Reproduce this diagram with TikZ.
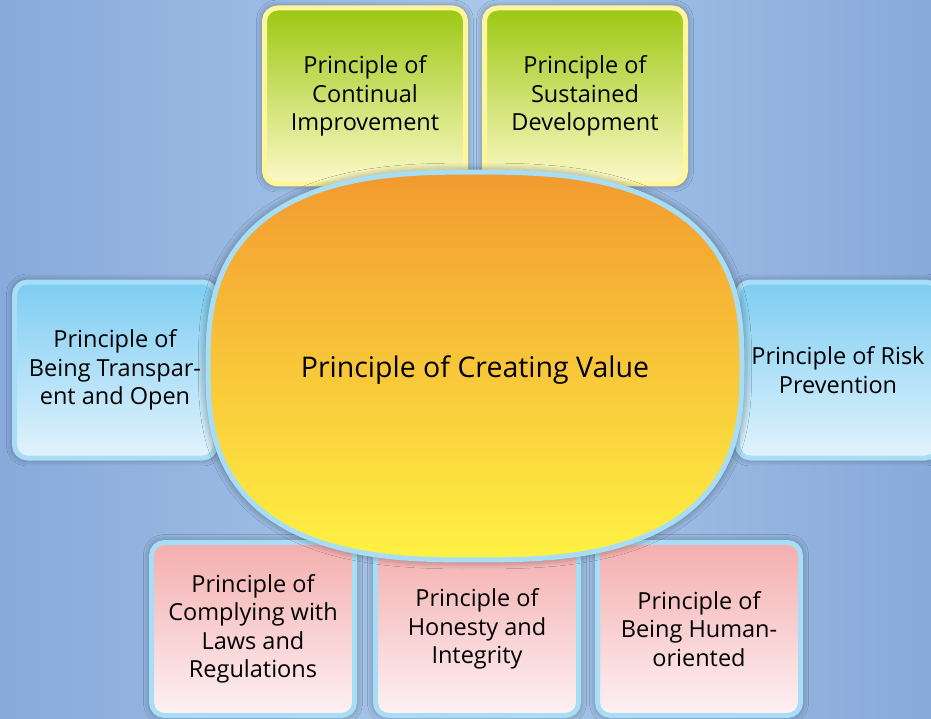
\documentclass[tikz,border=0pt]{standalone}
\usepackage{fontspec}
\setmainfont{Open Sans}
\usetikzlibrary{shadows.blur}

\definecolor{bgdark}{HTML}{88AADA}
\definecolor{bglight}{HTML}{A8C7EA}
\definecolor{rimblue}{HTML}{A8DDF6}
\definecolor{rimyellow}{HTML}{FFF59A}
\definecolor{greentop}{HTML}{9CC813}
\definecolor{greenbot}{HTML}{FDF9C8}
\definecolor{bluetop}{HTML}{7DCDF3}
\definecolor{bluebot}{HTML}{E2F3FC}
\definecolor{pinktop}{HTML}{F4AEAE}
\definecolor{pinkbot}{HTML}{FDF1F4}
\definecolor{coretop}{HTML}{F29A30}
\definecolor{corebot}{HTML}{FFF243}

\begin{document}
\begin{tikzpicture}[x=1pt, y=-1pt,
    softshadow/.style={blur shadow={shadow xshift=0pt, shadow yshift=0pt,
      shadow blur radius=7pt, shadow opacity=40, shadow blur steps=6,
      shadow scale=1.01}},
    box/.style={rounded corners=13pt, line width=5pt, align=center,
      minimum width=201pt, minimum height=176pt, inner sep=0pt,
      font=\fontsize{23.5}{28.5}\selectfont, softshadow},
    greenbox/.style={box, draw=rimyellow, top color=greentop, bottom color=greenbot},
    bluebox/.style={box, draw=rimblue, top color=bluetop, bottom color=bluebot},
    pinkbox/.style={box, draw=rimblue, top color=pinktop, bottom color=pinkbot,
      minimum width=203pt, minimum height=173pt}]

  % Achtergrond
  \fill[left color=bgdark, right color=bgdark, middle color=bglight] (0,0) rectangle (931,719);
  \useasboundingbox (0,0) rectangle (931,719);

  % Bovenste vakken
  \node[greenbox] (improve) at (365,96) {Principle of\\Continual\\Improvement};
  \node[greenbox] (sustain) at (585,96) {Principle of\\Sustained\\Development};

  % Zijvakken
  \node[bluebox] (transparent) at (115,370) {Principle of\\Being Transpar-\\ent and Open};
  \node[bluebox] (risk) at (838,370) {Principle of Risk\\Prevention};

  % Onderste vakken
  \node[pinkbox] (laws) at (253,629) {Principle of\\Complying with\\Laws and\\Regulations};
  \node[pinkbox] (honesty) at (477,629) {Principle of\\Honesty and\\Integrity};
  \node[pinkbox] (human) at (699,629) {Principle of\\Being Human-\\oriented};

  % Kern (superellips)
  \draw[draw=rimblue, line width=5pt, top color=coretop, bottom color=corebot, softshadow]
    plot[domain=0.5:359.5, samples=120]
      ({475+267*cos(\x)*pow(abs(cos(\x)),2/2.7-1)}, {366+194*sin(\x)*pow(abs(sin(\x)),2/2.7-1)}) -- cycle;
  \node[font=\fontsize{28.5}{34}\selectfont] (core) at (475,370) {Principle of Creating Value};
\end{tikzpicture}
\end{document}
